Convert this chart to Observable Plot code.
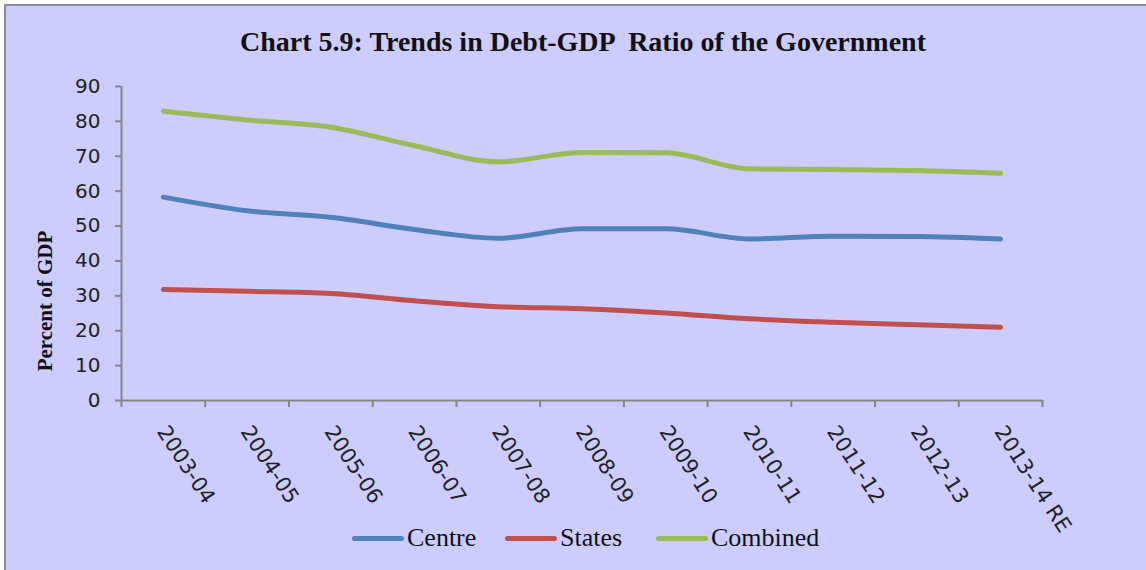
<!DOCTYPE html>
<html><head><meta charset="utf-8">
<script src="https://cdn.jsdelivr.net/npm/d3@7"></script>
<script src="https://cdn.jsdelivr.net/npm/@observablehq/plot@0.6"></script>
<style>
body{margin:0;background:#fff;width:1146px;height:570px;overflow:hidden;position:relative;}
#frame{position:absolute;left:4px;top:4px;width:1142px;height:566px;background:#CCCCFF;border-left:2px solid #8c8c9c;border-top:2px solid #8c8c9c;box-sizing:border-box;}
#title{position:absolute;left:0;top:26px;width:1166px;text-align:center;font:bold 28px "Liberation Serif";color:#111;white-space:pre;}
#chart{position:absolute;left:0;top:70px;}
#ylabel{position:absolute;left:45px;top:301px;transform:translate(-50%,-50%) rotate(-90deg);font:bold 21px "Liberation Serif";color:#111;white-space:nowrap;}
#legend{position:absolute;top:522px;left:0;height:32px;}
.item{position:absolute;top:0;height:32px;display:flex;align-items:center;}
.swatch{display:inline-block;width:52px;height:5px;border-radius:3px;margin-right:3px;}
.lab{font:26px "Liberation Serif";color:#111;}
</style></head>
<body>
<div id="frame"></div>
<div id="title">Chart 5.9: Trends in Debt-GDP  Ratio of the Government</div>
<div id="chart"></div>
<div id="ylabel">Percent of GDP</div>
<div id="legend"></div>
<script>
const years = ["2003-04","2004-05","2005-06","2006-07","2007-08","2008-09","2009-10","2010-11","2011-12","2012-13","2013-14 RE"];
const centre   = [58.3, 54.4, 52.5, 49.0, 46.5, 49.2, 49.2, 46.3, 47.1, 47.0, 46.3];
const states   = [31.8, 31.3, 30.7, 28.6, 26.9, 26.3, 25.1, 23.4, 22.4, 21.7, 21.0];
const combined = [82.9, 80.4, 78.3, 73.0, 68.4, 71.1, 71.0, 66.4, 66.2, 65.9, 65.1];
const seriesNames = ["Centre", "States", "Combined"];
const seriesColors = ["#4F81BD", "#C0504D", "#9BBB59"];
const yTicks = [0, 10, 20, 30, 40, 50, 60, 70, 80, 90];

const seriesValues = [centre, states, combined];
const rows = seriesNames.flatMap((s, k) => years.map((y, i) => ({i, year: y, value: seriesValues[k][i], series: s})));
const idx = years.map((_, i) => i);
const boundaries = d3.range(-0.5, years.length, 1);

const chart = Plot.plot({
  width: 1146, height: 440,
  marginTop: 16, marginBottom: 110, marginLeft: 121, marginRight: 104,
  style: {background: "transparent", color: "#111", overflow: "visible"},
  x: {type: "linear", domain: [-0.5, years.length - 0.5]},
  y: {domain: [0, 90]},
  color: {domain: seriesNames, range: seriesColors},
  marks: [
    Plot.axisY({ticks: yTicks, tickSize: 6, tickPadding: 15, fontSize: 20, fontFamily: "DejaVu Sans", stroke: "#868686", strokeWidth: 2, fill: "#222", label: null, style: {letterSpacing: "1.5px"}}),
    Plot.axisX({ticks: boundaries, tickSize: 7, tickFormat: () => "", stroke: "#868686", strokeWidth: 2, label: null}),
    Plot.ruleY([0], {stroke: "#868686", strokeWidth: 2}),
    Plot.ruleX([-0.5], {stroke: "#868686", strokeWidth: 2}),
    Plot.text(years, {x: idx, frameAnchor: "bottom", text: d => d, rotate: 57, textAnchor: "start", lineAnchor: "bottom", dx: -7, dy: 31, fontSize: 21, fontFamily: "DejaVu Sans", fill: "#222"}),
    Plot.line(rows, {x: "i", y: "value", stroke: "series", z: "series", strokeWidth: 5, curve: "monotone-x", strokeLinecap: "round", strokeLinejoin: "round"})
  ]
});
document.getElementById("chart").appendChild(chart);

const legendX = [352, 505, 656];
const legend = document.getElementById("legend");
seriesNames.forEach((s, k) => {
  const it = document.createElement("div");
  it.className = "item";
  it.style.left = legendX[k] + "px";
  it.innerHTML = `<span class="swatch" style="background:${seriesColors[k]}"></span><span class="lab">${s}</span>`;
  legend.appendChild(it);
});
</script>
</body></html>
